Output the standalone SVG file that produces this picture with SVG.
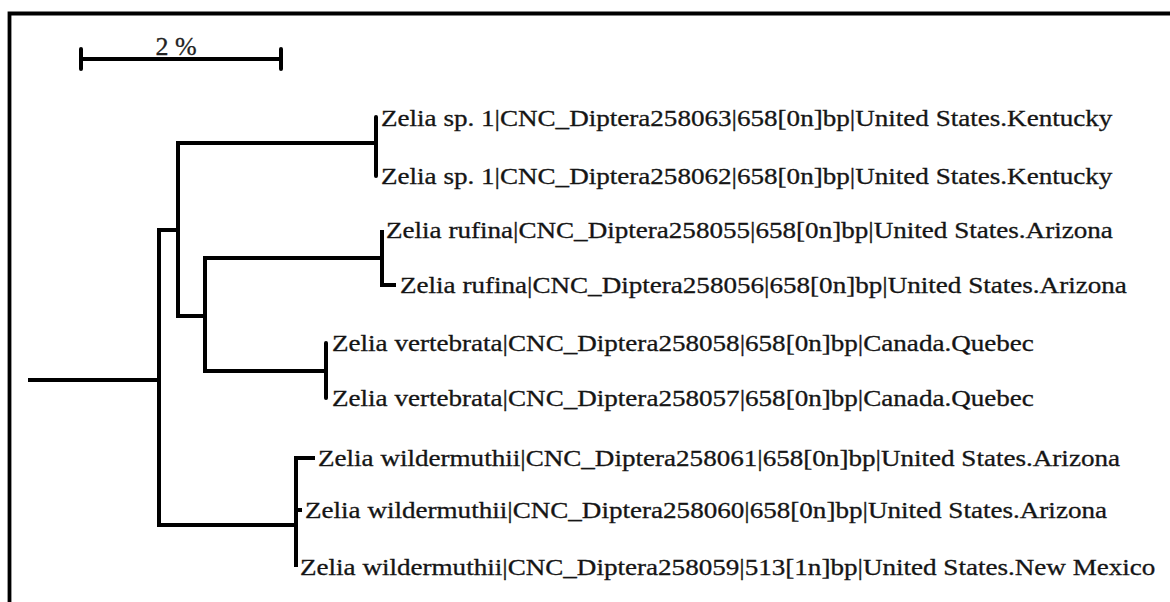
<svg xmlns="http://www.w3.org/2000/svg" width="1170" height="602" viewBox="0 0 1170 602">
<style>
.lbl{font-family:"Liberation Serif","Times New Roman",serif;font-size:27.1px;fill:#151515;stroke:#151515;stroke-width:0.35}
.br{fill:none;stroke:#000;stroke-width:4;stroke-linejoin:miter;stroke-linecap:butt}
.tip{fill:none;stroke:#000;stroke-width:4;stroke-linecap:round}
</style>
<rect width="1170" height="602" fill="#fff"/>
<g id="frame"><path d="M9.5,602 V13.5 H1170" fill="none" stroke="#000" stroke-width="3.8"/></g>
<g id="scale">
<path d="M81,59 H281" class="br"/>
<path d="M81,49 V69 M281,49 V69" class="tip"/>
<text x="176" y="55" text-anchor="middle" style="font-family:'Liberation Serif','Times New Roman',serif;font-size:26px;fill:#222;stroke:#222;stroke-width:0.3">2 %</text>
</g>
<g id="connectors">
<path class="br" d="M28,380 H159"/>
<path class="br" d="M178,230 H159 V525 H296"/>
<path class="br" d="M376,143 H178 V316 H205"/>
<path class="tip" d="M376,117 V176"/>
<path class="br" d="M382,258 H205 V371 H326"/>
<path class="br" d="M382,230 V285 H396"/>
<path class="tip" d="M326,343 V398"/>
<path class="br" d="M315,458 H296 V567"/>
<path class="br" d="M296,510 H302"/>
</g>
<g id="n1"><text class="lbl" transform="translate(381,126) scale(1,0.87)">Zelia sp. 1|CNC_Diptera258063|658[0n]bp|United States.Kentucky</text></g>
<g id="n2"><text class="lbl" transform="translate(381,184) scale(1,0.87)">Zelia sp. 1|CNC_Diptera258062|658[0n]bp|United States.Kentucky</text></g>
<g id="n3"><text class="lbl" transform="translate(386,238) scale(1,0.87)">Zelia rufina|CNC_Diptera258055|658[0n]bp|United States.Arizona</text></g>
<g id="n4"><text class="lbl" transform="translate(400,293) scale(1,0.87)">Zelia rufina|CNC_Diptera258056|658[0n]bp|United States.Arizona</text></g>
<g id="n5"><text class="lbl" transform="translate(332,351) scale(1,0.87)">Zelia vertebrata|CNC_Diptera258058|658[0n]bp|Canada.Quebec</text></g>
<g id="n6"><text class="lbl" transform="translate(332,406) scale(1,0.87)">Zelia vertebrata|CNC_Diptera258057|658[0n]bp|Canada.Quebec</text></g>
<g id="n7"><text class="lbl" transform="translate(318,466) scale(1,0.87)">Zelia wildermuthii|CNC_Diptera258061|658[0n]bp|United States.Arizona</text></g>
<g id="n8"><text class="lbl" transform="translate(305,518) scale(1,0.87)">Zelia wildermuthii|CNC_Diptera258060|658[0n]bp|United States.Arizona</text></g>
<g id="n9"><text class="lbl" transform="translate(300,575) scale(1,0.87)">Zelia wildermuthii|CNC_Diptera258059|513[1n]bp|United States.New Mexico</text></g>
</svg>
